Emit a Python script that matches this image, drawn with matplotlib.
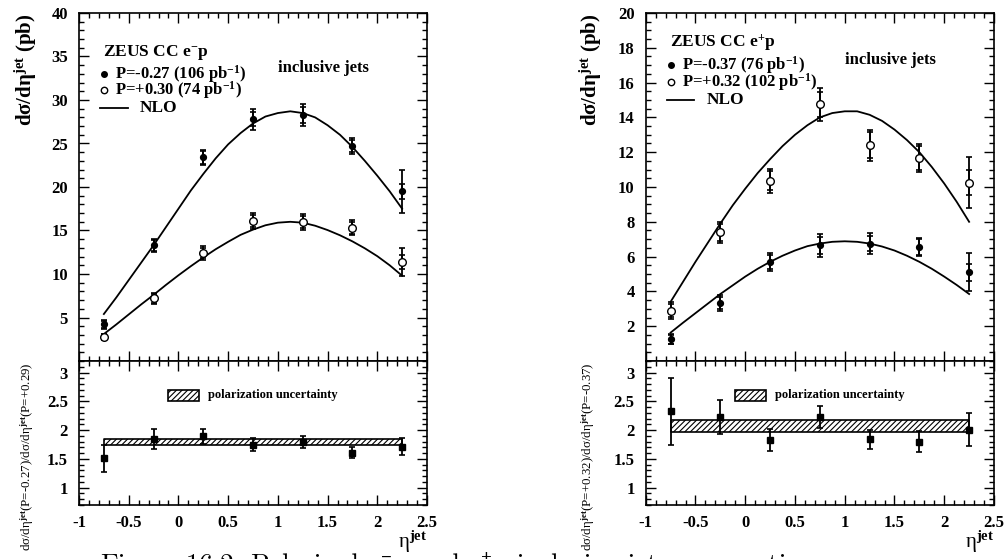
import matplotlib
matplotlib.use("Agg")
import matplotlib.pyplot as plt
from matplotlib.patches import Rectangle
from matplotlib.ticker import MultipleLocator, FixedLocator

plt.rcParams["font.family"] = "Liberation Serif"
plt.rcParams["font.weight"] = "bold"
plt.rcParams["mathtext.fontset"] = "custom"
plt.rcParams["mathtext.rm"] = "Liberation Serif:bold"
plt.rcParams["mathtext.bf"] = "Liberation Serif:bold"
plt.rcParams["mathtext.it"] = "Liberation Serif:bold"
plt.rcParams["axes.unicode_minus"] = False
plt.rcParams["hatch.linewidth"] = 0.8

# --- data ---
eta = [-0.75, -0.25, 0.25, 0.75, 1.25, 1.75, 2.25]
eta_nlo = [-0.75, -0.625, -0.5, -0.375, -0.25, -0.125, 0.0, 0.125, 0.25, 0.375, 0.5, 0.625,
           0.75, 0.875, 1.0, 1.125, 1.25, 1.375, 1.5, 1.625, 1.75, 1.875, 2.0, 2.125, 2.25]

# e-p
em_neg = [4.2, 13.3, 23.4, 27.8, 28.3, 24.7, 19.5]          # P=-0.27
em_neg_stat = [0.4, 0.6, 0.7, 0.8, 0.9, 0.7, 0.9]
em_neg_tot = [0.5, 0.75, 0.9, 1.2, 1.25, 0.9, 2.5]
em_pos = [2.8, 7.2, 12.4, 16.1, 16.0, 15.3, 11.4]           # P=+0.30
em_pos_stat = [0.3, 0.5, 0.6, 0.7, 0.7, 0.7, 0.8]
em_pos_tot = [0.35, 0.6, 0.8, 0.9, 0.9, 0.85, 1.6]
em_nlo_neg = [5.4, 7.3, 9.3, 11.3, 13.3, 15.4, 17.5, 19.6, 21.5, 23.3, 24.9, 26.2, 27.3,
              28.1, 28.5, 28.7, 28.5, 28.0, 27.1, 26.0, 24.6, 23.0, 21.3, 19.5, 17.5]
em_nlo_pos = [3.1, 4.2, 5.35, 6.5, 7.6, 8.75, 9.85, 10.9, 11.9, 12.85, 13.7, 14.5, 15.1,
              15.6, 15.9, 16.0, 15.9, 15.55, 15.05, 14.45, 13.75, 12.95, 12.05, 11.0, 9.8]
em_ratio = [1.51, 1.85, 1.89, 1.75, 1.79, 1.61, 1.71]
em_ratio_err = [0.24, 0.17, 0.13, 0.11, 0.10, 0.10, 0.15]
em_band = (1.74, 1.84)

# e+p
ep_neg = [1.25, 3.35, 5.7, 6.65, 6.75, 6.55, 5.1]           # P=-0.37
ep_neg_stat = [0.25, 0.35, 0.4, 0.5, 0.45, 0.45, 0.5]
ep_neg_tot = [0.3, 0.45, 0.5, 0.65, 0.6, 0.5, 1.1]
ep_pos = [2.9, 7.4, 10.35, 14.75, 12.4, 11.65, 10.25]       # P=+0.32
ep_pos_stat = [0.35, 0.5, 0.55, 0.7, 0.75, 0.7, 0.7]
ep_pos_tot = [0.5, 0.6, 0.7, 0.95, 0.9, 0.8, 1.45]
ep_nlo_pos = [3.4, 4.55, 5.7, 6.8, 7.9, 8.95, 9.9, 10.8, 11.6, 12.35, 13.0, 13.55, 14.0,
              14.25, 14.35, 14.35, 14.15, 13.8, 13.3, 12.7, 12.0, 11.15, 10.2, 9.15, 8.0]
ep_nlo_neg = [1.63, 2.2, 2.75, 3.3, 3.85, 4.35, 4.85, 5.3, 5.7, 6.05, 6.35, 6.6, 6.75,
              6.85, 6.88, 6.85, 6.75, 6.58, 6.35, 6.05, 5.7, 5.3, 4.85, 4.37, 3.85]
ep_ratio = [2.33, 2.23, 1.83, 2.23, 1.84, 1.80, 2.01]
ep_ratio_err = [0.58, 0.30, 0.19, 0.19, 0.17, 0.18, 0.28]
ep_band = (1.96, 2.18)

W, H = 1007, 559
fig = plt.figure(figsize=(W / 100, H / 100), dpi=100)


def px(x0, y0, x1, y1):
    return [x0 / W, 1 - y1 / H, (x1 - x0) / W, (y1 - y0) / H]


def style(ax, ymaj, ymin):
    ax.set_xlim(-1, 2.5)
    ax.xaxis.set_major_locator(MultipleLocator(0.5))
    ax.xaxis.set_minor_locator(MultipleLocator(0.1))
    ax.yaxis.set_major_locator(MultipleLocator(ymaj))
    ax.yaxis.set_minor_locator(MultipleLocator(ymin))
    ax.tick_params(which="both", direction="in", top=True, right=True, width=1.0)
    ax.tick_params(which="major", length=7, labelsize=12)
    ax.tick_params(which="minor", length=3.5)
    ax.tick_params(axis="y", pad=8)
    ax.tick_params(axis="x", pad=7)
    for s in ax.spines.values():
        s.set_linewidth(1.2)


def points(ax, y, stat, tot, mfc, ms):
    ax.errorbar(eta, y, yerr=tot, fmt="none", ecolor="k", elinewidth=1.3, capsize=2.5, capthick=1.2)
    ax.errorbar(eta, y, yerr=stat, fmt="none", ecolor="k", elinewidth=1.3, capsize=2.5, capthick=1.2)
    ax.plot(eta, y, "o", ms=ms, mfc=mfc, mec="k", mew=1.0, zorder=5)


xticks = [-1, -0.5, 0, 0.5, 1, 1.5, 2, 2.5]
xlabels = ["-1", "-0.5", "0", "0.5", "1", "1.5", "2", "2.5"]

panels = [
    dict(x0=79, x1=427, ymax=40, ymaj=5, ymin=1,
         neg=(em_neg, em_neg_stat, em_neg_tot), pos=(em_pos, em_pos_stat, em_pos_tot),
         nlo=(em_nlo_neg, em_nlo_pos), ratio=(em_ratio, em_ratio_err), band=em_band,
         title="ZEUS CC e$^{-}$p",
         l1="P=-0.27 (106 pb$^{-1}$)", l2="P=+0.30 (74 pb$^{-1}$)",
         ylab_r="dσ/dη$^{jet}$(P=-0.27)/dσ/dη$^{jet}$(P=+0.29)", yl_x=26, yr_x=27,
         ly=(35.5, 33.0, 31.1, 29.1), inc=(1.0, 33.7)),
    dict(x0=645.7, x1=994, ymax=20, ymaj=2, ymin=0.5,
         neg=(ep_neg, ep_neg_stat, ep_neg_tot), pos=(ep_pos, ep_pos_stat, ep_pos_tot),
         nlo=(ep_nlo_neg, ep_nlo_pos), ratio=(ep_ratio, ep_ratio_err), band=ep_band,
         title="ZEUS CC e$^{+}$p",
         l1="P=-0.37 (76 pb$^{-1}$)", l2="P=+0.32 (102 pb$^{-1}$)",
         ylab_r="dσ/dη$^{jet}$(P=+0.32)/dσ/dη$^{jet}$(P=-0.37)", yl_x=591, yr_x=588,
         ly=(18.27, 17.0, 16.05, 15.0), inc=(1.0, 17.3)),
]

for p in panels:
    # ---- top panel ----
    ax = fig.add_axes(px(p["x0"], 13, p["x1"], 361))
    style(ax, p["ymaj"], p["ymin"])
    ax.set_ylim(0, p["ymax"])
    yt = [v for v in range(p["ymaj"], p["ymax"] + 1, p["ymaj"])]
    ax.yaxis.set_major_locator(FixedLocator([0] + yt))
    ax.set_yticklabels([""] + [str(v) for v in yt])
    ax.set_xticks(xticks)
    ax.set_xticklabels([])
    ax.plot(eta_nlo, p["nlo"][0], "k-", lw=1.3)
    ax.plot(eta_nlo, p["nlo"][1], "k-", lw=1.3)
    points(ax, *p["neg"], mfc="k", ms=4.2)
    points(ax, *p["pos"], mfc="white", ms=5.5)

    ys = p["ly"]
    ax.text(-0.76, ys[0], p["title"], fontsize=12.5, va="center")
    ax.plot([-0.75], [ys[1]], "o", ms=4.0, mfc="k", mec="k")
    ax.text(-0.64, ys[1], p["l1"], fontsize=12, va="center")
    ax.plot([-0.75], [ys[2]], "o", ms=4.6, mfc="white", mec="k")
    ax.text(-0.64, ys[2], p["l2"], fontsize=12, va="center")
    ax.plot([-0.79, -0.51], [ys[3], ys[3]], "k-", lw=1.3)
    ax.text(-0.39, ys[3], "NLO", fontsize=12.5, va="center")
    ax.text(p["inc"][0], p["inc"][1], "inclusive jets", fontsize=12, va="center")

    # ---- ratio panel ----
    axr = fig.add_axes(px(p["x0"], 361, p["x1"], 505))
    style(axr, 0.5, 0.1)
    axr.set_ylim(0.7, 3.2)
    axr.yaxis.set_major_locator(FixedLocator([1, 1.5, 2, 2.5, 3]))
    axr.set_yticklabels(["1", "1.5", "2", "2.5", "3"])
    axr.set_xticks(xticks)
    axr.set_xticklabels(xlabels)
    lo, hi = p["band"]
    axr.fill_between([eta[0], eta[-1]], lo, hi, facecolor="white", edgecolor="k",
                     hatch="//////", lw=1.2, zorder=2)
    axr.add_patch(Rectangle((-0.1, 2.51), 0.31, 0.19, facecolor="white", edgecolor="k",
                            hatch="//////", lw=1.2))
    axr.text(0.30, 2.61, "polarization uncertainty", fontsize=9, va="center")
    axr.errorbar(eta, p["ratio"][0], yerr=p["ratio"][1], fmt="none", ecolor="k",
                 elinewidth=1.3, capsize=2.5, capthick=1.2, zorder=4)
    axr.plot(eta, p["ratio"][0], "s", ms=5, mfc="k", mec="k", zorder=5)

    # labels
    fig.text(p["yl_x"] / W, 1 - 13 / H, "dσ/dη$^{jet}$ (pb)", rotation=90,
             ha="center", va="top", fontsize=15)
    fig.text(p["yr_x"] / W, 1 - 362 / H, p["ylab_r"], rotation=90, ha="center", va="top",
             fontsize=9.3, fontweight="normal")
    fig.text(p["x1"] / W, 1 - 548 / H, "η$^{jet}$", ha="right", va="baseline",
             fontsize=15, fontweight="normal")

fig.text(100 / W, 1 - 573 / H, "Figure 16.2: Polarised e$^{-}$p and e$^{+}$p inclusive jet cross sections",
         fontsize=19.5, fontweight="normal", family="cmr10", va="baseline", zorder=-1)

fig.savefig("out.png", dpi=100)
